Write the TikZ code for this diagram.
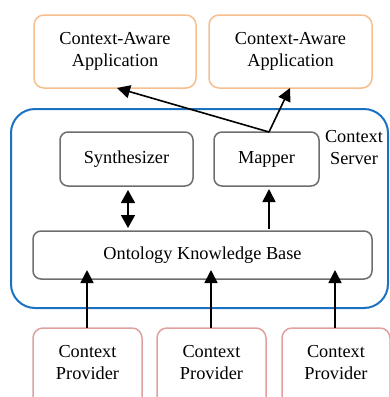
\documentclass[tikz,border=0pt]{standalone}
\usepackage{fontspec}
\setmainfont{Liberation Serif}
\usetikzlibrary{arrows.meta}
\definecolor{appc}{HTML}{F7BE8E}
\definecolor{srvc}{HTML}{1A72C0}
\definecolor{innc}{HTML}{6E6E6E}
\definecolor{provc}{HTML}{E0A0A0}
\tikzset{
  txt/.style={align=center, font=\fontsize{18.3}{22}\selectfont, inner sep=0pt},
  appbox/.style={draw=appc, line width=1.5pt, rounded corners=10pt, fill=white},
  innbox/.style={draw=innc, line width=1.5pt, rounded corners=8pt, fill=white},
  provbox/.style={draw=provc, line width=1.5pt, rounded corners=10pt, fill=white},
  conn/.style={line width=1.6pt, -{Triangle[length=13pt,width=13pt]}},
  dconn/.style={line width=1.6pt, {Triangle[length=13pt,width=14pt]}-{Triangle[length=13pt,width=14pt]}}
}
\begin{document}
\begin{tikzpicture}[x=1pt,y=-1pt]
\useasboundingbox (0,0) rectangle (390,397);
\begin{scope}
\clip (0,0) rectangle (390,397);
% server
\draw[draw=srvc, line width=2pt, rounded corners=24pt] (11,109) rectangle (388,308);
\node[txt] (lbl) at (354,148) {Context\\Server};
% apps
\node[appbox, minimum width=162pt, minimum height=73pt] (app1) at (115,51.5) {};
\node[txt] at (app1) {Context-Aware\\Application};
\node[appbox, minimum width=163pt, minimum height=73pt] (app2) at (290.5,51.5) {};
\node[txt] at (app2) {Context-Aware\\Application};
% inner
\node[innbox, minimum width=133pt, minimum height=54pt] (syn) at (126.5,159) {};
\node[txt] at (syn) {Synthesizer};
\node[innbox, minimum width=105pt, minimum height=54pt] (map) at (266.5,159) {};
\node[txt] at (map) {Mapper};
\node[innbox, minimum width=339pt, minimum height=48pt] (okb) at (202.5,255) {};
\node[txt] at (okb) {Ontology Knowledge Base};
% providers
\node[provbox, minimum width=109pt, minimum height=90pt] (p1) at (87.5,373) {};
\node[provbox, minimum width=109pt, minimum height=90pt] (p2) at (211.5,373) {};
\node[provbox, minimum width=108pt, minimum height=90pt] (p3) at (336,373) {};
\node[txt] (t1) at (87.5,363) {Context\\Provider};
\node[txt] (t2) at (211.5,363) {Context\\Provider};
\node[txt] (t3) at (336,363) {Context\\Provider};
% connectors
\coordinate (mtop) at (269,132);
\draw[conn] (mtop) -- (117,88);
\draw[conn] (mtop) -- (290,88);
\draw[dconn] (128,190) -- (128,228);
\draw[conn] (269,229) -- (269,189);
\draw[conn] (87,328) -- (87,270);
\draw[conn] (211,328) -- (211,270);
\draw[conn] (335,328) -- (335,270);
\end{scope}
\end{tikzpicture}
\end{document}
